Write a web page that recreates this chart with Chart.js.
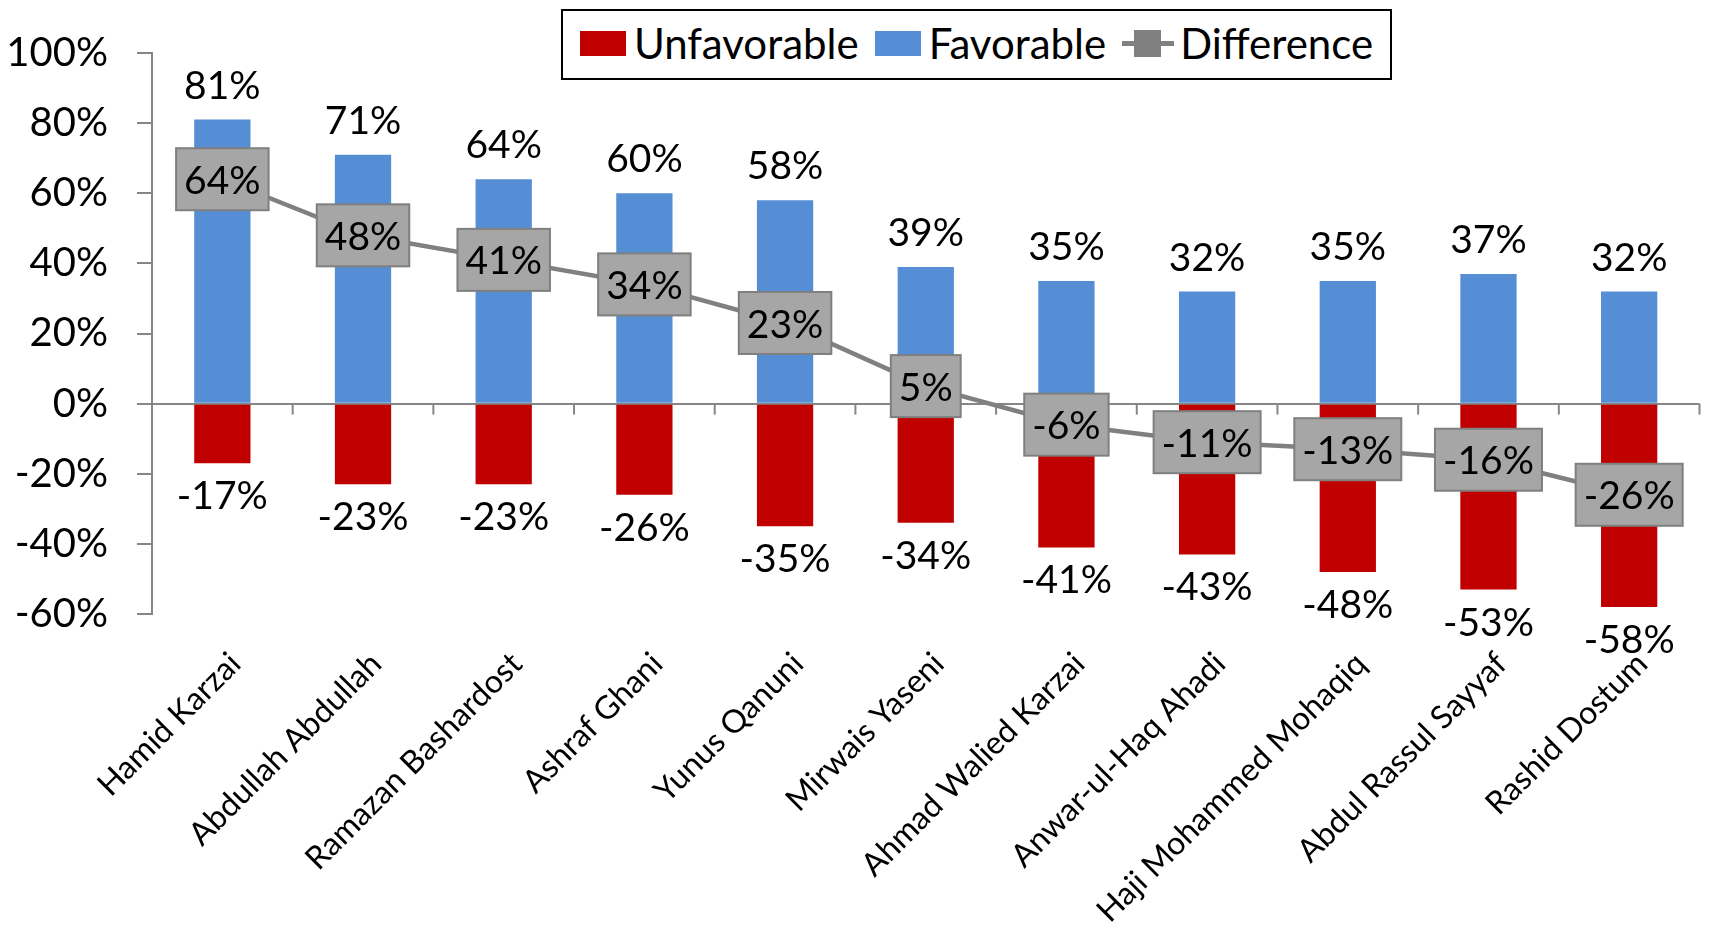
<!DOCTYPE html>
<html>
<head>
<meta charset="utf-8">
<script src="https://cdn.jsdelivr.net/npm/chart.js@4.4.0/dist/chart.umd.min.js"></script>
<style>
    html, body { margin: 0; padding: 0; background: #ffffff; }
    #wrap { position: relative; width: 1712px; height: 931px; }
    #legenda {
        position: absolute; left: 561px; top: 9px;
        width: 831px; height: 71px; box-sizing: border-box;
        border: 2px solid #000; background: #fff;
        display: flex; align-items: center; justify-content: center;
        font-family: Lato, "Open Sans", sans-serif; font-size: 42px; color: #000;
        padding-bottom: 3px;
    }
    .item { display: flex; align-items: center; margin: 0 8px; }
    .caixa { width: 46px; height: 25px; margin-right: 8px; }
    .linha { position: relative; width: 52px; height: 5px; margin-right: 6px; }
    .linha span {
        position: absolute; left: 12px; top: -11px;
        width: 27px; height: 27px;
    }
</style>
</head>
<body>
<div id="wrap">
    <canvas id="grafico" width="1712" height="931"></canvas>
    <div id="legenda"></div>
</div>
<script>
// DADOS DO GRÁFICO
const candidatos = [
    "Hamid Karzai", "Abdullah Abdullah", "Ramazan Bashardost", "Ashraf Ghani",
    "Yunus Qanuni", "Mirwais Yaseni", "Ahmad Walied Karzai", "Anwar-ul-Haq Ahadi",
    "Haji Mohammed Mohaqiq", "Abdul Rassul Sayyaf", "Rashid Dostum"
];
const favoravel = [81, 71, 64, 60, 58, 39, 35, 32, 35, 37, 32];
const desfavoravel = [-17, -23, -23, -26, -35, -34, -41, -43, -48, -53, -58];
const diferenca = [64, 48, 41, 34, 23, 5, -6, -11, -13, -16, -26];
const ticksY = [-60, -40, -20, 0, 20, 40, 60, 80, 100];

const FONTE = "Lato, 'Open Sans', sans-serif";
const CINZA_EIXO = "#868686";


// TRAÇOS DO EIXO ZERO ENTRE CATEGORIAS
const pluginTracosZero = {
    id: "tracosZero",
    beforeDatasetsDraw(chart) {
        const ctx = chart.ctx;
        const x = chart.scales.x;
        const y0 = chart.scales.y.getPixelForValue(0);
        const passo = x.getPixelForValue(1) - x.getPixelForValue(0);
        ctx.save();
        ctx.strokeStyle = CINZA_EIXO;
        ctx.lineWidth = 2;
        for (let i = 0; i <= candidatos.length; i++) {
            const px = x.getPixelForValue(i) - passo / 2;
            ctx.beginPath();
            ctx.moveTo(px, y0);
            ctx.lineTo(px, y0 + 11);
            ctx.stroke();
        }
        ctx.restore();
    }
};


// RÓTULOS DE VALORES
const pluginRotulos = {
    id: "rotulos",
    afterDatasetsDraw(chart) {
        const ctx = chart.ctx;
        ctx.save();
        ctx.font = "39px " + FONTE;
        ctx.fillStyle = "#000";
        ctx.textAlign = "center";

        chart.data.datasets.forEach((ds, i) => {
            const meta = chart.getDatasetMeta(i);
            meta.data.forEach((el, j) => {
                const valor = ds.data[j];
                const texto = valor + "%";

                if (ds.type === "line") {
                    // Caixa cinza da diferença
                    const w = ctx.measureText(texto).width + 16;
                    const h = 62;
                    ctx.fillStyle = "#a6a6a6";
                    ctx.fillRect(el.x - w / 2, el.y - h / 2, w, h);
                    ctx.strokeStyle = "#7f7f7f";
                    ctx.lineWidth = 2;
                    ctx.strokeRect(el.x - w / 2, el.y - h / 2, w, h);
                    ctx.fillStyle = "#000";
                    ctx.textBaseline = "middle";
                    ctx.fillText(texto, el.x, el.y + 2);
                } else if (valor >= 0) {
                    ctx.textBaseline = "bottom";
                    ctx.fillText(texto, el.x, el.y - 14);
                } else {
                    ctx.textBaseline = "top";
                    ctx.fillText(texto, el.x, el.y + 14);
                }
            });
        });
        ctx.restore();
    }
};


// LEGENDA EM HTML
function montarLegenda(chart) {
    const box = document.getElementById("legenda");
    chart.data.datasets.forEach((ds) => {
        const item = document.createElement("div");
        item.className = "item";
        let marca;
        if (ds.type === "line") {
            marca = document.createElement("div");
            marca.className = "linha";
            marca.style.background = ds.borderColor;
            const q = document.createElement("span");
            q.style.background = ds.borderColor;
            marca.appendChild(q);
        } else {
            marca = document.createElement("div");
            marca.className = "caixa";
            marca.style.background = ds.backgroundColor;
        }
        const txt = document.createElement("span");
        txt.textContent = ds.label;
        item.appendChild(marca);
        item.appendChild(txt);
        box.appendChild(item);
    });
}


// CRIA GRÁFICO
const grafico = new Chart(document.getElementById("grafico"), {
    data: {
        labels: candidatos,
        datasets: [
            {
                type: "bar",
                label: "Unfavorable",
                data: desfavoravel,
                backgroundColor: "#c00000",
                categoryPercentage: 1,
                barPercentage: 0.4,
                order: 1,
            },
            {
                type: "bar",
                label: "Favorable",
                data: favoravel,
                backgroundColor: "#558ed5",
                categoryPercentage: 1,
                barPercentage: 0.4,
                order: 1,
            },
            {
                type: "line",
                label: "Difference",
                data: diferenca,
                stack: "dif",
                borderColor: "#808080",
                backgroundColor: "#808080",
                borderWidth: 4.5,
                pointStyle: "rect",
                pointRadius: 8,
                tension: 0,
                order: 0,
            },
        ],
    },
    options: {
        responsive: false,
        animation: false,
        layout: {
            padding: { top: 51, right: 4, left: 0, bottom: 0 }
        },
        plugins: {
            legend: { display: false },
            tooltip: { enabled: false },
        },
        scales: {
            x: {
                stacked: true,
                grid: { display: false },
                border: { display: false },
                ticks: {
                    autoSkip: false,
                    minRotation: 45,
                    maxRotation: 45,
                    padding: 23,
                    labelOffset: 13,
                    color: "#000",
                    font: { family: FONTE, size: 32 },
                },
                afterFit: (s) => { s.height = 317; },
            },
            y: {
                stacked: true,
                min: -60,
                max: 100,
                afterBuildTicks: (s) => {
                    s.ticks = ticksY.map((v) => ({ value: v }));
                },
                ticks: {
                    padding: 29,
                    color: "#000",
                    font: { family: FONTE, size: 40 },
                    callback: (v) => v + "%",
                },
                grid: {
                    color: (c) => (c.tick && c.tick.value === 0 ? CINZA_EIXO : "rgba(0,0,0,0)"),
                    tickColor: CINZA_EIXO,
                    tickLength: 15,
                    lineWidth: 2,
                },
                border: { display: true, color: CINZA_EIXO, width: 2 },
                afterFit: (s) => { s.width = 152; },
            },
        },
    },
    plugins: [pluginTracosZero, pluginRotulos],
});

montarLegenda(grafico);
</script>
</body>
</html>
